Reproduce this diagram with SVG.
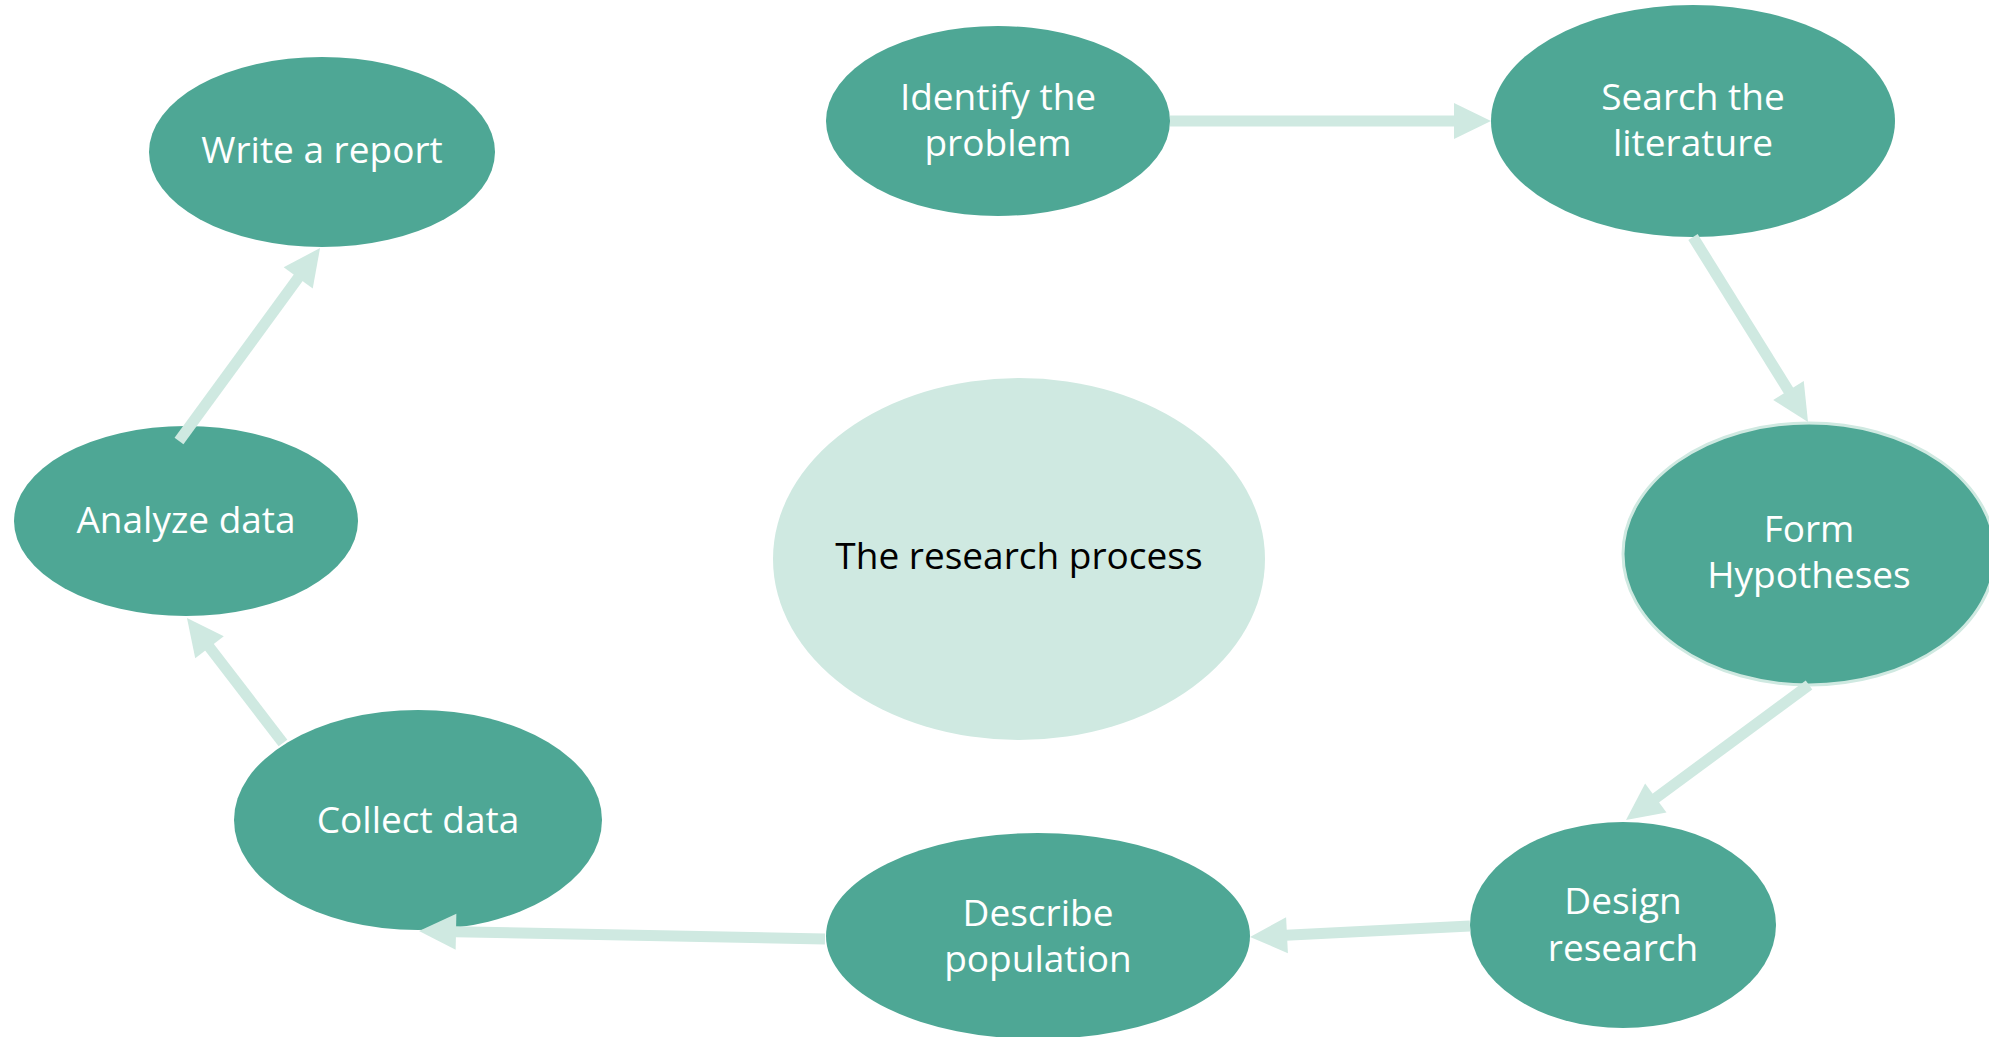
<svg xmlns="http://www.w3.org/2000/svg" width="1989" height="1037" viewBox="0 0 1989 1037">
  <style>
    .node { fill: #4EA795; }
    .hub { fill: #CFE9E1; }
    .label { font-family: "Open Sans", "Liberation Sans", sans-serif; font-size: 37px; fill: #FFFFFF; text-anchor: middle; }
    .hub-label { fill: #000000; }
    .link { stroke: #CFE9E1; stroke-width: 11; fill: none; marker-end: url(#head); }
  </style>
  <defs>
    <marker id="head" markerUnits="userSpaceOnUse" markerWidth="40" markerHeight="40" viewBox="0 -20 40 40" refX="0" refY="0" orient="auto" overflow="visible">
      <path d="M-1,-18 L36,0 L-1,18 Z" fill="#CFE9E1"/>
    </marker>
  </defs>

  <rect width="1989" height="1037" fill="#FFFFFF"/>

  <!-- central hub -->
  <g id="research-process">
    <ellipse class="hub" cx="1019" cy="559" rx="246" ry="181"/>
    <text class="label hub-label" x="1019" y="569">The research process</text>
  </g>

  <g id="identify-problem">
    <ellipse class="node" cx="998" cy="121" rx="172" ry="95"/>
    <text class="label" x="998" y="110">Identify the</text>
    <text class="label" x="998" y="156">problem</text>
  </g>

  <g id="search-literature">
    <ellipse class="node" cx="1693" cy="121" rx="202" ry="116"/>
    <text class="label" x="1693" y="110">Search the</text>
    <text class="label" x="1693" y="156">literature</text>
  </g>

  <g id="form-hypotheses">
    <ellipse class="node" cx="1809" cy="554" rx="186" ry="131" stroke="#CFE9E1" stroke-width="3"/>
    <text class="label" x="1809" y="542">Form</text>
    <text class="label" x="1809" y="588">Hypotheses</text>
  </g>

  <g id="design-research">
    <ellipse class="node" cx="1623" cy="925" rx="153" ry="103"/>
    <text class="label" x="1623" y="914">Design</text>
    <text class="label" x="1623" y="961">research</text>
  </g>

  <g id="describe-population">
    <ellipse class="node" cx="1038" cy="936" rx="212" ry="103"/>
    <text class="label" x="1038" y="926">Describe</text>
    <text class="label" x="1038" y="972">population</text>
  </g>

  <g id="collect-data">
    <ellipse class="node" cx="418" cy="820" rx="184" ry="110"/>
    <text class="label" x="418" y="833">Collect data</text>
  </g>

  <g id="analyze-data">
    <ellipse class="node" cx="186" cy="521" rx="172" ry="95"/>
    <text class="label" x="186" y="533">Analyze data</text>
  </g>

  <g id="write-report">
    <ellipse class="node" cx="322" cy="152" rx="173" ry="95"/>
    <text class="label" x="322" y="163">Write a report</text>
  </g>

  <!-- connectors sit above the nodes; each line stops at the arrowhead base, marker supplies the tip -->
  <g id="connectors">
    <line class="link" x1="1170" y1="121" x2="1455" y2="121"/>
    <line class="link" x1="1693" y1="237" x2="1789" y2="391.4"/>
    <line class="link" x1="1809" y1="685" x2="1655" y2="798.6"/>
    <line class="link" x1="1470" y1="926" x2="1286" y2="935.2"/>
    <line class="link" x1="825" y1="939" x2="455" y2="931.7"/>
    <line class="link" x1="283" y1="743" x2="208.9" y2="646.5"/>
    <line class="link" x1="179" y1="441" x2="298.8" y2="277.1"/>
  </g>
</svg>
